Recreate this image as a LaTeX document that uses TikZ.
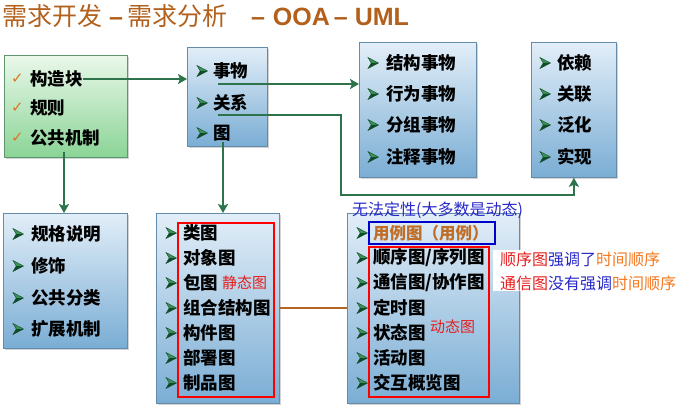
\documentclass[tikz,border=0pt]{standalone}
\usepackage{fontspec}
\setmainfont{Noto Sans CJK SC}
\newfontfamily\latinb{Liberation Sans}
\newfontfamily\symf{DejaVu Sans}
\usetikzlibrary{shadows,arrows.meta}
\definecolor{titlecol}{RGB}{178,96,28}
\definecolor{bluetop}{RGB}{226,238,248}
\definecolor{bluebot}{RGB}{122,173,212}
\definecolor{greentop}{RGB}{234,248,234}
\definecolor{greenbot}{RGB}{138,212,150}
\definecolor{boxline}{RGB}{100,140,170}
\definecolor{gboxline}{RGB}{95,150,110}
\definecolor{conncol}{RGB}{45,115,75}
\definecolor{buldark}{RGB}{15,75,40}
\definecolor{bullight}{RGB}{60,145,85}
\definecolor{checkcol}{RGB}{215,120,40}
\definecolor{browncol}{RGB}{180,100,35}
\definecolor{usecol}{RGB}{190,110,40}
\definecolor{notered}{RGB}{230,30,30}
\definecolor{noteblue}{RGB}{40,40,200}
\definecolor{noteorange}{RGB}{245,120,30}
\begin{document}
\begin{tikzpicture}[x=1pt,y=-1pt,
  box/.style={draw=boxline, line width=0.8pt, top color=bluetop, bottom color=bluebot,
    anchor=north west, inner sep=0pt,
    drop shadow={shadow xshift=2pt,shadow yshift=-2pt,opacity=.35}},
  gbox/.style={box, draw=gboxline, top color=greentop, bottom color=greenbot},
  item/.style={anchor=west, inner sep=0pt, font=\fontsize{17.5}{17.5}\selectfont\bfseries, text=black},
  chk/.style={anchor=west, inner sep=0pt, font=\symf\fontsize{15}{15}\selectfont, text=checkcol},
  bullet/.pic={
    \fill[bullight] (0,-5.5) -- (10.5,0) -- (3.2,0) -- cycle;
    \fill[buldark] (3.2,0) -- (10.5,0) -- (0,5.5) -- cycle;
    \draw[buldark, line width=0.4pt, line join=miter] (0,-5.5) -- (10.5,0) -- (0,5.5) -- (3.2,0) -- cycle;
  },
  conn/.style={draw=conncol, line width=2.4pt, -{Stealth[length=9pt,width=10pt,inset=2pt]}},
  brownline/.style={draw=browncol, line width=2pt},
  redbox/.style={draw=red, line width=1.1pt},
  bluebox/.style={draw=blue!80!black, line width=1.1pt},
  note/.style={anchor=west, inner sep=0pt, font=\fontsize{16}{16}\selectfont},
  smallnote/.style={anchor=west, inner sep=0pt, font=\fontsize{15}{15}\selectfont, text=notered}
]
\useasboundingbox (0,0) rectangle (682,409);

% title
\node[anchor=west, inner sep=0pt, text=titlecol, font=\fontsize{25}{25}\selectfont] (title) at (2,16)
  {需求开发\hspace{7pt}{\latinb\bfseries –}\hspace{4pt}需求分析\hspace{24pt}{\latinb\bfseries –\hspace{8pt}OOA\hspace{4pt}–\hspace{7pt}UML}};

% boxes
\node[gbox, minimum width=123pt, minimum height=102pt] (g) at (4,55) {};
\node[box, minimum width=80pt, minimum height=99pt] (t) at (187,47) {};
\node[box, minimum width=117pt, minimum height=135pt] (s) at (359,42) {};
\node[box, minimum width=85pt, minimum height=135pt] (r) at (531,42) {};
\node[box, minimum width=124pt, minimum height=135pt] (m) at (3,213) {};
\node[box, minimum width=123pt, minimum height=190pt] (d) at (156,213) {};
\node[box, minimum width=172pt, minimum height=190pt] (y) at (347,213) {};

% green box items
\foreach \txt/\yy [count=\i] in {构造块/79,规则/108,公共机制/138} {
  \node[chk] (gc\i) at (11,\yy) {✓};
  \node[item] (g\i) at (30,\yy) {\txt};
}
% things box
\foreach \txt/\yy [count=\i] in {事物/71,关系/103,图/133} {
  \pic at (197,\yy) {bullet};
  \node[item] (t\i) at (213,\yy) {\txt};
}
% structure things
\foreach \txt/\yy [count=\i] in {结构事物/63,行为事物/94,分组事物/125,注释事物/157} {
  \pic at (368,\yy) {bullet};
  \node[item] (s\i) at (386,\yy) {\txt};
}
% relations
\foreach \txt/\yy [count=\i] in {依赖/63,关联/94,泛化/125,实现/157} {
  \pic at (540,\yy) {bullet};
  \node[item] (r\i) at (557,\yy) {\txt};
}
% mechanisms
\foreach \txt/\yy [count=\i] in {规格说明/234,修饰/266,公共分类/298,扩展机制/329} {
  \pic at (13,\yy) {bullet};
  \node[item] (m\i) at (31,\yy) {\txt};
}
% static diagrams
\foreach \txt [count=\i] in {类图,对象图,包图,组合结构图,构件图,部署图,制品图} {
  \pic at (166,208+25*\i) {bullet};
  \node[item] (d\i) at (183,208+25*\i) {\txt};
}
% dynamic diagrams
\pic at (357,233) {bullet};
\node[item, text=usecol, font=\fontsize{16.5}{16.5}\selectfont\bfseries] (y1) at (373,233) {用例图（用例）};
\foreach \txt [count=\i from 2] in {顺序图/序列图,通信图/协作图,定时图,状态图,活动图,交互概览图} {
  \pic at (357,208+25*\i) {bullet};
  \node[item] (y\i) at (373,208+25*\i) {\txt};
}

% highlight frames
\draw[redbox] (178,223) rectangle (274,397);
\draw[redbox] (369,247) rectangle (489,397);
\draw[bluebox] (369,222) rectangle (495,244);

% annotations
\node[note, text=noteblue] (q) at (352,210) {无法定性(大多数是动态)};
\node[smallnote] (st) at (222,283) {静态图};
\node[smallnote] (dy) at (430,327) {动态图};
\node[fill=white, anchor=north west, inner sep=0pt, minimum width=187pt, minimum height=41pt] (nb) at (493,250) {};
\node[note] (n1) at (500,259) {\textcolor{notered}{顺序图}\textcolor{noteblue}{强调了}\textcolor{noteorange}{时间顺序}};
\node[note] (n2) at (500,283) {\textcolor{notered}{通信图}\textcolor{noteblue}{没有强调}\textcolor{noteorange}{时间顺序}};

% connectors
\coordinate (k1) at (218,84);
\coordinate (k2) at (218,115);
\coordinate (bend) at (341,195);
\coordinate (k3) at (64,152);
\coordinate (k4) at (223,142);
\draw[conn] (g1.east) -- (g1.east -| t.west);
\draw[conn] (k1) -- (k1 -| s.west);
\draw[conn] (k2) -| (bend) -| (r.south);
\draw[conn] (k3) -- (k3 |- m.north);
\draw[conn] (k4) -- (k4 |- d.north);
\draw[brownline] (d.east) -- (y.west);
\end{tikzpicture}
\end{document}
